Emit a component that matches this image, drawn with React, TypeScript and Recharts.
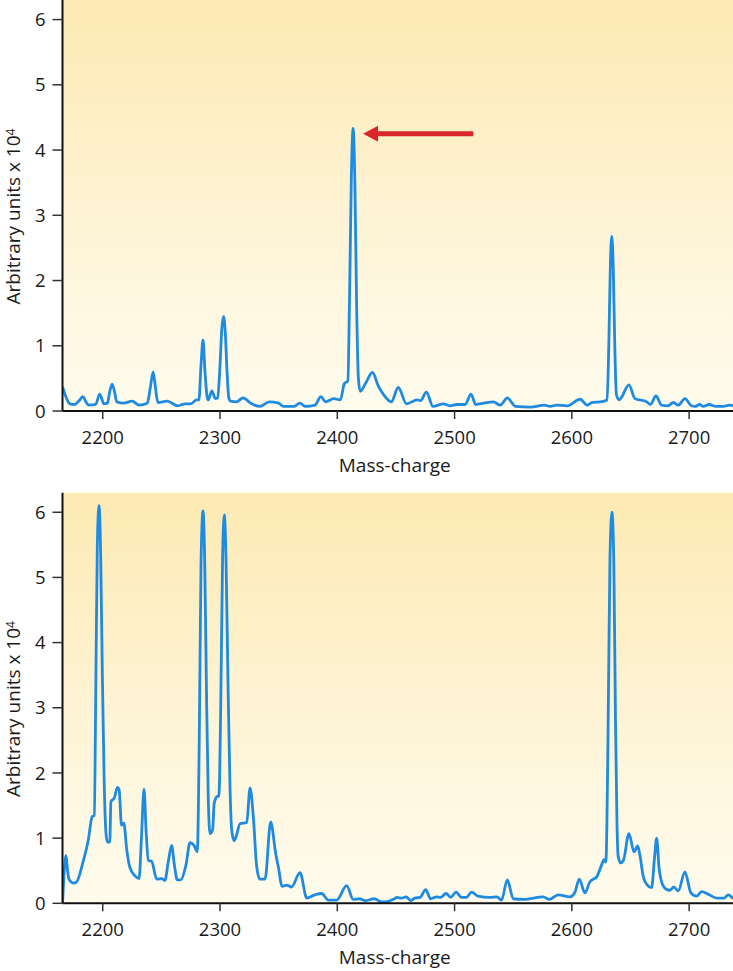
import { LineChart, Line, XAxis, YAxis, CartesianGrid, ReferenceLine } from 'recharts'

// mass-charge, intensity (x 10^4)
const topSpectrum: [number, number][] = [
  [2165.8, 0.37], [2169, 0.2], [2172, 0.11], [2176, 0.1], [2180, 0.16], [2183, 0.22], [2186, 0.13],
  [2188, 0.09], [2194, 0.1], [2197.4, 0.26], [2201, 0.11], [2204, 0.12], [2206, 0.3], [2208, 0.41],
  [2210, 0.3], [2212, 0.14], [2218, 0.12], [2225, 0.15], [2231, 0.09], [2238, 0.12], [2240.5, 0.35],
  [2243, 0.6], [2245, 0.35], [2247, 0.13], [2255, 0.15], [2264, 0.08], [2270, 0.11], [2275, 0.11],
  [2280, 0.17], [2282, 0.17], [2283.8, 0.7], [2285.5, 1.09], [2287.2, 0.6], [2289, 0.22], [2290, 0.17],
  [2293, 0.31], [2296, 0.19], [2298, 0.2], [2300, 0.7], [2301.5, 1.25], [2303, 1.45], [2304.5, 1.2],
  [2306, 0.6], [2307.5, 0.2], [2309, 0.15], [2314, 0.14], [2319.6, 0.2], [2327, 0.11], [2334, 0.07],
  [2342, 0.14], [2350, 0.12], [2354, 0.07], [2363, 0.07], [2368, 0.12], [2373, 0.07], [2381, 0.09],
  [2386, 0.22], [2390, 0.14], [2397, 0.19], [2402.6, 0.17], [2406, 0.42], [2409, 0.46], [2410.5, 1.8],
  [2412, 3.6], [2413.5, 4.33], [2415, 3.5], [2416.5, 1.6], [2418, 0.5], [2419.6, 0.3], [2424, 0.42],
  [2430, 0.59], [2435, 0.38], [2439.5, 0.25], [2446, 0.14], [2452, 0.36], [2459, 0.11], [2468, 0.17],
  [2471, 0.16], [2476, 0.29], [2481.6, 0.07], [2490.6, 0.11], [2496, 0.08], [2502, 0.1], [2509, 0.1],
  [2514, 0.26], [2518, 0.1], [2525, 0.12], [2533, 0.14], [2539, 0.09], [2545, 0.2], [2552, 0.07],
  [2565, 0.06], [2576.5, 0.09], [2581.6, 0.07], [2587, 0.09], [2596, 0.08], [2607, 0.18], [2613, 0.09],
  [2617, 0.13], [2624, 0.14], [2630, 0.17], [2631.5, 1.0], [2632.8, 2.2], [2634, 2.68], [2635.3, 2.2],
  [2636.6, 1.0], [2638, 0.25], [2640.4, 0.17], [2642, 0.2], [2648.7, 0.4], [2653.8, 0.19], [2663.8, 0.14],
  [2667, 0.1], [2671.7, 0.23], [2676.5, 0.09], [2682, 0.08], [2686.5, 0.13], [2690.7, 0.09], [2696.4, 0.19],
  [2702, 0.08], [2705, 0.07], [2709, 0.1], [2712, 0.07], [2717, 0.1], [2723, 0.07], [2729, 0.07],
  [2734.5, 0.09], [2737.4, 0.08],
]

const bottomSpectrum: [number, number][] = [
  [2165.8, 0.02], [2167.2, 0.5], [2168.7, 0.73], [2170, 0.5], [2171.5, 0.36], [2175, 0.31], [2177.8, 0.33],
  [2183, 0.62], [2187.7, 0.97], [2191, 1.33], [2192.8, 1.35], [2194.2, 3.5], [2195.4, 5.5], [2196.8, 6.1],
  [2198.2, 5.4], [2199.6, 3.6], [2201.2, 1.9], [2202.8, 1.07], [2204, 0.94], [2206, 0.94], [2207, 1.56],
  [2210, 1.62], [2212.5, 1.78], [2214, 1.74], [2216, 1.2], [2218, 1.23], [2220.5, 0.82], [2223, 0.56],
  [2227.5, 0.42], [2231, 0.38], [2233, 1.0], [2235.2, 1.75], [2237, 1.1], [2238.9, 0.66], [2241.8, 0.64],
  [2246, 0.37], [2250.3, 0.38], [2253, 0.35], [2256, 0.65], [2258.8, 0.89], [2261, 0.6], [2263.6, 0.36],
  [2266.4, 0.36], [2271, 0.59], [2274.4, 0.93], [2277.8, 0.89], [2280.6, 0.79], [2282.3, 2.5], [2283.8, 5.2],
  [2285.5, 6.02], [2287, 5.2], [2288.5, 3.2], [2290, 1.6], [2291.5, 1.07], [2293.8, 1.14], [2295, 1.53],
  [2297.7, 1.64], [2299, 1.64], [2300.6, 3.0], [2302.2, 5.3], [2303.7, 5.96], [2305.2, 5.2], [2306.8, 3.4],
  [2308.5, 1.8], [2310, 1.12], [2312, 0.96], [2314, 1.04], [2317, 1.22], [2322.8, 1.24], [2325.6, 1.77],
  [2328.4, 1.33], [2331.3, 0.56], [2334, 0.37], [2338.4, 0.37], [2343.2, 1.25], [2347.5, 0.76], [2349.7, 0.56],
  [2353, 0.26], [2356.9, 0.28], [2361, 0.25], [2368.2, 0.47], [2374, 0.08], [2381, 0.13], [2386.7, 0.15],
  [2392.3, 0.05], [2399.5, 0.05], [2408, 0.27], [2413.6, 0.06], [2419, 0.07], [2423.6, 0.04], [2431.5, 0.07],
  [2437.8, 0.02], [2443.5, 0.03], [2447.7, 0.06], [2451, 0.09], [2455, 0.08], [2458.6, 0.1], [2462.6, 0.04],
  [2466, 0.08], [2470.5, 0.09], [2475.3, 0.21], [2479.6, 0.07], [2484.7, 0.1], [2488, 0.09], [2492.7, 0.15],
  [2496.7, 0.09], [2501.2, 0.17], [2506, 0.09], [2510, 0.09], [2514.6, 0.17], [2520, 0.11], [2530, 0.09],
  [2536, 0.1], [2540, 0.05], [2545, 0.36], [2550, 0.07], [2559, 0.06], [2575.6, 0.1], [2580.7, 0.06],
  [2588.4, 0.13], [2598.4, 0.1], [2602.6, 0.17], [2606.3, 0.37], [2611.2, 0.16], [2615.4, 0.33], [2618.2, 0.37],
  [2621, 0.4], [2625.4, 0.59], [2627.4, 0.67], [2629, 0.63], [2630.8, 2.5], [2632.5, 5.3], [2634.2, 6.0],
  [2635.8, 5.2], [2637.2, 2.8], [2638.5, 1.2], [2639.5, 0.72], [2641.6, 0.62], [2644, 0.66], [2648.7, 1.07],
  [2653, 0.79], [2656.1, 0.88], [2658, 0.74], [2660.9, 0.41], [2664.3, 0.28], [2668, 0.24], [2670.5, 0.7],
  [2672.3, 1.0], [2674.3, 0.55], [2676.5, 0.33], [2680.2, 0.22], [2683.6, 0.2], [2687, 0.25], [2690.7, 0.19],
  [2696.4, 0.48], [2701.5, 0.16], [2706.4, 0.11], [2710.7, 0.18], [2716.3, 0.14], [2723.4, 0.08], [2730, 0.08],
  [2733.3, 0.13], [2737.4, 0.07],
]

const xTicks = [2200, 2300, 2400, 2500, 2600, 2700]
const yTicks = [0, 1, 2, 3, 4, 5, 6]
const xDomain = [2165.7, 2737.4]
const yDomain = [0, 6.3]

// red arrow pointing at the 2413 peak in the upper spectrum
const arrowFrom = { x: 2516, y: 4.25 }
const arrowTo = { x: 2422, y: 4.25 }

const FONT = '"Open Sans", "Noto Sans", sans-serif'
const BLUE = '#1e8ae0'

function yLabel(props: any) {
  const vb = props.viewBox
  const x = 19.5
  const cy = vb.y + vb.height / 2 + 11
  return (
    <text
      x={x}
      y={cy}
      transform={`rotate(-90, ${x}, ${cy})`}
      textAnchor="middle"
      fontFamily={FONT}
      fontSize={19}
      fill="#1a1a1a"
    >
      Arbitrary units x 10
      <tspan dy={-5} fontSize={12}>4</tspan>
    </text>
  )
}

function xLabel(props: any) {
  const vb = props.viewBox
  return (
    <text
      x={vb.x + vb.width / 2 - 3}
      y={vb.y + 61}
      textAnchor="middle"
      fontFamily={FONT}
      fontSize={19}
      fill="#1a1a1a"
    >
      Mass-charge
    </text>
  )
}

function arrowShape(props: any) {
  const { x1, y1, x2 } = props
  const headLen = 15
  const headHalf = 8
  return (
    <g>
      <line x1={x1} y1={y1} x2={x2 + headLen - 1} y2={y1} stroke="#d8262a" strokeWidth={5} />
      <polygon
        points={`${x2},${y1} ${x2 + headLen},${y1 - headHalf} ${x2 + headLen},${y1 + headHalf}`}
        fill="#d8262a"
      />
    </g>
  )
}

interface PanelProps {
  spectrum: [number, number][]
  id: string
  height: number
  marginTop: number
  axisHeight: number
  arrow?: boolean
}

function SpectrumPanel({ spectrum, id, height, marginTop, axisHeight, arrow }: PanelProps) {
  const data = spectrum.map(([mz, v]) => ({ mz, v }))
  return (
    <LineChart width={733} height={height} data={data} margin={{ top: marginTop, right: 0, bottom: 0, left: 0 }}>
      <defs>
        <linearGradient id={id} x1="0" y1="0" x2="0" y2="1">
          <stop offset="0%" stopColor="#fdeab3" />
          <stop offset="55%" stopColor="#fef4d6" />
          <stop offset="100%" stopColor="#fffcee" />
        </linearGradient>
      </defs>
      <CartesianGrid horizontal={false} vertical={false} fill={`url(#${id})`} />
      <XAxis
        dataKey="mz"
        type="number"
        domain={xDomain}
        ticks={xTicks}
        allowDataOverflow
        height={axisHeight}
        tickSize={8}
        tickMargin={12}
        axisLine={{ stroke: '#111', strokeWidth: 2 }}
        tickLine={{ stroke: '#333', strokeWidth: 1.5 }}
        tick={{ fontSize: 18.5, fill: '#1a1a1a', fontFamily: FONT }}
        label={xLabel}
      />
      <YAxis
        type="number"
        domain={yDomain}
        ticks={yTicks}
        allowDataOverflow
        width={62.5}
        tickSize={10}
        tickMargin={7}
        axisLine={{ stroke: '#111', strokeWidth: 2 }}
        tickLine={{ stroke: '#333', strokeWidth: 1.5 }}
        tick={{ fontSize: 18.5, fill: '#1a1a1a', fontFamily: FONT }}
        label={yLabel}
      />
      <Line
        dataKey="v"
        type="monotone"
        stroke={BLUE}
        strokeWidth={2.8}
        dot={false}
        activeDot={false}
        isAnimationActive={false}
      />
      {arrow && (
        <ReferenceLine segment={[arrowFrom, arrowTo]} shape={arrowShape} ifOverflow="visible" />
      )}
    </LineChart>
  )
}

export default function App() {
  return (
    <div style={{ position: 'absolute', left: 0, top: 0, width: 733, height: 971, background: '#fff' }}>
      <div style={{ position: 'absolute', left: 0, top: 0 }}>
        <SpectrumPanel spectrum={topSpectrum} id="bgTop" height={482} marginTop={0} axisHeight={71} arrow />
      </div>
      <div style={{ position: 'absolute', left: 0, top: 490 }}>
        <SpectrumPanel spectrum={bottomSpectrum} id="bgBottom" height={481} marginTop={2.7} axisHeight={67.7} />
      </div>
    </div>
  )
}
